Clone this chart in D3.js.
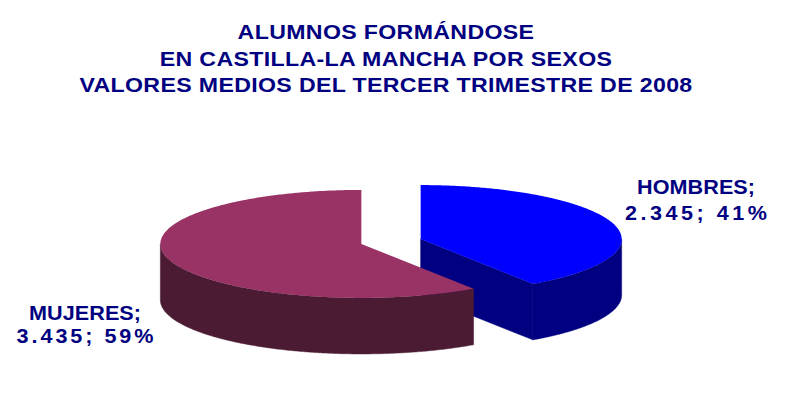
<!DOCTYPE html>
<html>
<head>
<meta charset="utf-8">
<script src="https://cdn.jsdelivr.net/npm/d3@7"></script>
<style>
  body { margin: 0; background: #fff; }
  svg { font-family: "Liberation Sans", Arial, sans-serif; }
</style>
</head>
<body>
<svg id="chart" width="788" height="417"></svg>
<script>
const categories = ["HOMBRES", "MUJERES"];
const values = [2345, 3435];
const valueLabels = ["2.345", "3.435"];
const titleLines = [
    "ALUMNOS FORMÁNDOSE",
    "EN CASTILLA-LA MANCHA POR SEXOS",
    "VALORES MEDIOS DEL TERCER TRIMESTRE DE 2008"
];

const topColors = d3.scaleOrdinal().domain(categories).range(["#0000ff", "#993366"]);
const sideColors = d3.scaleOrdinal().domain(categories).range(["#000080", "#4b1a33"]);

const svg = d3.select("#chart");

// pie geometry (ellipse)
const cx = 391, cy = 241.5, rx = 201, ry = 54, depth = 56, explode = 31;

// title, a bit stretched sideways like the original
svg.append("g")
    .selectAll("text")
    .data(titleLines)
    .join("text")
    .attr("transform", (d, i) => `translate(386, ${39 + i * 26.5}) scale(1.13, 1)`)
    .attr("text-anchor", "middle")
    .style("font-size", "20.5px")
    .style("font-weight", "bold")
    .style("letter-spacing", "0.3px")
    .style("fill", "#000080")
    .text(d => d);

const total = d3.sum(values);
const pie = d3.pie().sort(null).value(d => d.value);
const slices = pie(categories.map((c, i) => ({ name: c, value: values[i], label: valueLabels[i] })));

// point on ellipse, angle clockwise from 12 o'clock
function pt(c, a, dz = 0) {
    return [c[0] + rx * Math.sin(a), c[1] - ry * Math.cos(a) + dz];
}

function arcPoints(c, a0, a1, dz) {
    const n = Math.max(2, Math.ceil(Math.abs(a1 - a0) / 0.01));
    return d3.range(n + 1).map(i => pt(c, a0 + (a1 - a0) * i / n, dz));
}

const line = d3.line();
const pieG = svg.append("g");

slices.forEach(s => {
    const mid = (s.startAngle + s.endAngle) / 2;
    const c = [cx + explode * Math.sin(mid), cy - explode * Math.cos(mid) * ry / rx];
    const g = pieG.append("g");
    const side = sideColors(s.data.name);

    // radial faces
    [[s.endAngle, a => a > 0 && a < Math.PI], [s.startAngle, a => a > Math.PI && a < 2 * Math.PI]]
        .forEach(([a, vis]) => {
            if (!vis(a)) return;
            const p = pt(c, a);
            g.append("path")
                .attr("d", line([c, p, [p[0], p[1] + depth], [c[0], c[1] + depth]]) + "Z")
                .attr("fill", side)
                .attr("stroke", side)
                .attr("stroke-width", 0.5);
        });

    // outer wall (front half only)
    const a0 = Math.max(s.startAngle, Math.PI / 2);
    const a1 = Math.min(s.endAngle, Math.PI * 1.5);
    if (a1 > a0) {
        const upper = arcPoints(c, a0, a1, 0);
        const lower = arcPoints(c, a1, a0, depth);
        g.append("path")
            .attr("d", line(upper.concat(lower)) + "Z")
            .attr("fill", side)
            .attr("stroke", side)
            .attr("stroke-width", 0.5);
    }

    // top
    g.append("path")
        .attr("d", line([c].concat(arcPoints(c, s.startAngle, s.endAngle, 0))) + "Z")
        .attr("fill", topColors(s.data.name));
});

// labels: [x, baseline1, baseline2, width1, width2]
const labelPos = {
    HOMBRES: [696, 194, 220, 118, 142],
    MUJERES: [85, 320, 343, 112, 137]
};
const stretch = 1.08;
const labelG = svg.append("g")
    .style("font-size", "20px")
    .style("font-weight", "bold")
    .style("fill", "#000080");

slices.forEach(s => {
    const p = labelPos[s.data.name];
    const lines = [s.data.name + ";", `${s.data.label}; ${Math.round(s.data.value / total * 100)}%`];
    lines.forEach((t, i) => {
        labelG.append("text")
            .attr("transform", `translate(${p[0]}, ${p[1 + i]}) scale(${stretch}, 1)`)
            .attr("text-anchor", "middle")
            .attr("textLength", p[3 + i] / stretch)
            .attr("lengthAdjust", "spacing")
            .text(t);
    });
});
</script>
</body>
</html>
